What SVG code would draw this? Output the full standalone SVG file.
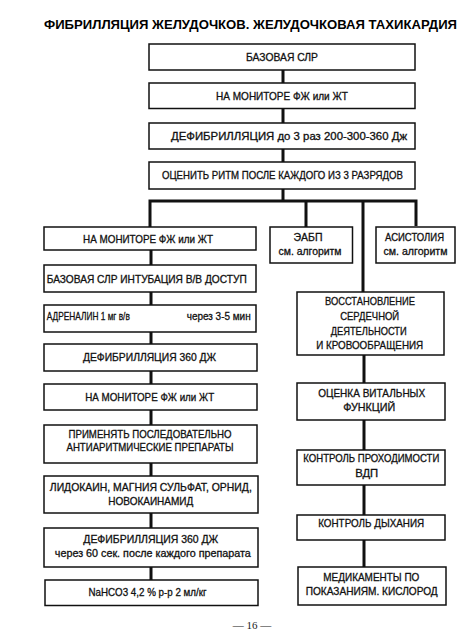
<svg xmlns="http://www.w3.org/2000/svg" width="474" height="643" viewBox="0 0 474 643">
<style>
.box{fill:#fff;stroke:#111;stroke-width:1.5}
.t{font-family:"Liberation Sans",Arial,sans-serif;font-size:10.4px;fill:#111;stroke:#111;stroke-width:0.3;text-anchor:middle}
.title{font-family:"Liberation Sans",Arial,sans-serif;font-size:12.5px;font-weight:bold;fill:#000}
.c{stroke:#111;stroke-width:3;fill:none}
.pg{font-family:"Liberation Serif","Times New Roman",serif;font-size:11px;fill:#222;text-anchor:middle}
</style>
<rect width="474" height="643" fill="#fff"/>
<text class="title" x="44" y="29" textLength="413" lengthAdjust="spacingAndGlyphs">ФИБРИЛЛЯЦИЯ ЖЕЛУДОЧКОВ. ЖЕЛУДОЧКОВАЯ ТАХИКАРДИЯ</text>

<g id="connectors">
<path class="c" d="M283 70V83M283 108V123M283 149V162M283 189V201"/>
<path class="c" d="M150 227V201H416V226M306 201V227M363 201V292"/>
<path class="c" d="M151 250V265M151 292V305M151 332V344M151 371V384M151 410V425M151 463V476M151 513V528M151 567V580"/>
<path class="c" d="M364 355V383M364 420V450M364 485V515M364 540V567"/>
</g>

<g id="n1"><rect class="box" x="149" y="44" width="266" height="26"/><text class="t" x="282" y="60.5" textLength="72" lengthAdjust="spacingAndGlyphs">БАЗОВАЯ СЛР</text></g>
<g id="n2"><rect class="box" x="149" y="83" width="266" height="25.5"/><text class="t" x="282" y="99.5" textLength="132" lengthAdjust="spacingAndGlyphs">НА МОНИТОРЕ ФЖ или ЖТ</text></g>
<g id="n3"><rect class="box" x="149" y="123" width="266" height="26"/><text class="t" x="289" y="139.5" textLength="236" lengthAdjust="spacingAndGlyphs">ДЕФИБРИЛЛЯЦИЯ до 3 раз 200-300-360 Дж</text></g>
<g id="n4"><rect class="box" x="149" y="162" width="266" height="27"/><text class="t" x="282.5" y="179" textLength="241" lengthAdjust="spacingAndGlyphs">ОЦЕНИТЬ РИТМ ПОСЛЕ КАЖДОГО ИЗ 3 РАЗРЯДОВ</text></g>

<g id="l1"><rect class="box" x="44" y="227" width="212" height="23"/><text class="t" x="148" y="243" textLength="130" lengthAdjust="spacingAndGlyphs">НА МОНИТОРЕ ФЖ или ЖТ</text></g>
<g id="l2"><rect class="box" x="44" y="265" width="212" height="27"/><text class="t" x="146.7" y="283.3" textLength="200" lengthAdjust="spacingAndGlyphs">БАЗОВАЯ СЛР ИНТУБАЦИЯ В/В ДОСТУП</text></g>
<g id="l3"><rect class="box" x="44" y="305" width="212" height="27"/><text class="t" x="88.3" y="319.5" textLength="83" lengthAdjust="spacingAndGlyphs">АДРЕНАЛИН 1 мг в/в</text><text class="t" x="218.7" y="319.5" textLength="64" lengthAdjust="spacingAndGlyphs">через 3-5 мин</text></g>
<g id="l4"><rect class="box" x="44" y="344" width="213" height="27"/><text class="t" x="149.5" y="361" textLength="133" lengthAdjust="spacingAndGlyphs">ДЕФИБРИЛЛЯЦИЯ 360 ДЖ</text></g>
<g id="l5"><rect class="box" x="44" y="384" width="213" height="26"/><text class="t" x="149.7" y="400.5" textLength="129" lengthAdjust="spacingAndGlyphs">НА МОНИТОРЕ ФЖ или ЖТ</text></g>
<g id="l6"><rect class="box" x="44" y="425" width="213" height="38"/><text class="t" x="150" y="437.5" textLength="163" lengthAdjust="spacingAndGlyphs">ПРИМЕНЯТЬ ПОСЛЕДОВАТЕЛЬНО</text><text class="t" x="150" y="450.5" textLength="167" lengthAdjust="spacingAndGlyphs">АНТИАРИТМИЧЕСКИЕ ПРЕПАРАТЫ</text></g>
<g id="l7"><rect class="box" x="44" y="476" width="214" height="37"/><text class="t" x="150.8" y="491" textLength="202" lengthAdjust="spacingAndGlyphs">ЛИДОКАИН, МАГНИЯ СУЛЬФАТ, ОРНИД,</text><text class="t" x="150.8" y="505" textLength="85" lengthAdjust="spacingAndGlyphs">НОВОКАИНАМИД</text></g>
<g id="l8"><rect class="box" x="44" y="528" width="214" height="39"/><text class="t" x="150.8" y="543" textLength="135" lengthAdjust="spacingAndGlyphs">ДЕФИБРИЛЛЯЦИЯ  360 ДЖ</text><text class="t" x="152.8" y="556.5" textLength="196" lengthAdjust="spacingAndGlyphs">через 60 сек. после каждого препарата</text></g>
<g id="l9"><rect class="box" x="45" y="580" width="213" height="25.5"/><text class="t" x="147.5" y="596" textLength="118" lengthAdjust="spacingAndGlyphs">NaHCO3 4,2 % р-р 2 мл/кг</text></g>

<g id="eabp"><rect class="box" x="270" y="227" width="82.5" height="36"/><text class="t" x="308" y="240.7" textLength="29" lengthAdjust="spacingAndGlyphs">ЭАБП</text><text class="t" x="310" y="255" textLength="63" lengthAdjust="spacingAndGlyphs">см. алгоритм</text></g>
<g id="asys"><rect class="box" x="376" y="227" width="79" height="36"/><text class="t" x="414.5" y="240.7" textLength="59" lengthAdjust="spacingAndGlyphs">АСИСТОЛИЯ</text><text class="t" x="415.5" y="255" textLength="64" lengthAdjust="spacingAndGlyphs">см. алгоритм</text></g>

<g id="r1"><rect class="box" x="297" y="292" width="147" height="63"/><text class="t" x="370" y="305" textLength="90" lengthAdjust="spacingAndGlyphs">ВОССТАНОВЛЕНИЕ</text><text class="t" x="369.7" y="320" textLength="59" lengthAdjust="spacingAndGlyphs">СЕРДЕЧНОЙ</text><text class="t" x="368.7" y="334.5" textLength="76" lengthAdjust="spacingAndGlyphs">ДЕЯТЕЛЬНОСТИ</text><text class="t" x="369.7" y="348.5" textLength="107" lengthAdjust="spacingAndGlyphs">И КРОВООБРАЩЕНИЯ</text></g>
<g id="r2"><rect class="box" x="297" y="383" width="148" height="37"/><text class="t" x="371.7" y="397" textLength="107" lengthAdjust="spacingAndGlyphs">ОЦЕНКА ВИТАЛЬНЫХ</text><text class="t" x="369.2" y="411" textLength="52" lengthAdjust="spacingAndGlyphs">ФУНКЦИЙ</text></g>
<g id="r3"><rect class="box" x="297" y="450" width="148" height="35"/><text class="t" x="371.3" y="461.7" textLength="136" lengthAdjust="spacingAndGlyphs">КОНТРОЛЬ ПРОХОДИМОСТИ</text><text class="t" x="366.7" y="476.7" textLength="23" lengthAdjust="spacingAndGlyphs">ВДП</text></g>
<g id="r4"><rect class="box" x="297" y="515" width="148" height="25"/><text class="t" x="371.2" y="526.7" textLength="106" lengthAdjust="spacingAndGlyphs">КОНТРОЛЬ ДЫХАНИЯ</text></g>
<g id="r5"><rect class="box" x="298" y="567" width="148" height="38"/><text class="t" x="371.3" y="581" textLength="96" lengthAdjust="spacingAndGlyphs">МЕДИКАМЕНТЫ ПО</text><text class="t" x="371.7" y="595" textLength="132" lengthAdjust="spacingAndGlyphs">ПОКАЗАНИЯМ. КИСЛОРОД</text></g>

<text class="pg" x="252" y="628.5">— 16 —</text>
</svg>
